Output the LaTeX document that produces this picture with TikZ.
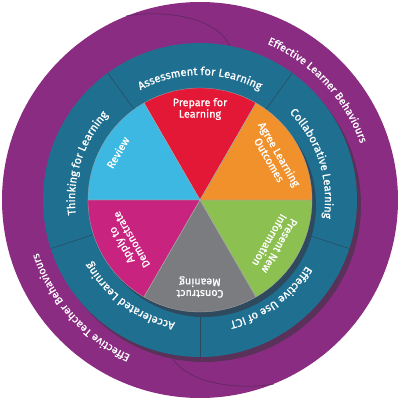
\documentclass[tikz,border=0pt]{standalone}
\usepackage{fontspec}
\setmainfont{Fira Sans}
\newfontfamily\lblfamily{Fira Sans}[FakeBold=0.8]
\usetikzlibrary{decorations.text}
\definecolor{outerpurple}{HTML}{8B2C83}
\definecolor{tealring}{HTML}{1F6F91}
\definecolor{ringshadow}{HTML}{5A3259}
\definecolor{pieshadow}{HTML}{2F4A5E}
\definecolor{sepline}{HTML}{2B4A5C}
\definecolor{purplesep}{HTML}{5A2A5E}
\definecolor{prepred}{HTML}{E31836}
\definecolor{agreeorange}{HTML}{F0912C}
\definecolor{presgreen}{HTML}{8CC152}
\definecolor{constgray}{HTML}{7A7C7F}
\definecolor{applymag}{HTML}{C7237F}
\definecolor{revblue}{HTML}{3CB8E2}
\newcommand\ringfnt{\lblfamily\fontsize{11.2}{12}\selectfont}
\newcommand\bandfnt{\lblfamily\fontsize{10.8}{12}\selectfont}
\newcommand\wedgefnt{\lblfamily\fontsize{10.8}{11.5}\selectfont}
\begin{document}
\begin{tikzpicture}[x=1pt,y=1pt,
  ringlabel/.style={decorate, decoration={text along path, text align=center, text color=white, text={|\ringfnt|#1}}},
  bandlabel/.style={decorate, decoration={text along path, text align=center, text color=white, text={|\bandfnt|#1}}},
  wedgelabel/.style={text=white, font=\wedgefnt, align=center, inner sep=0pt},
  wedge/.style={draw=black!35, line width=0.3pt}
]
\useasboundingbox (-200,-200) rectangle (200,200);
% outer purple band
\fill[outerpurple] (0,0) circle[radius=198];
\draw[purplesep, line width=0.6pt] (-74,184) .. controls (-40,190) and (15,185) .. (30,154);
\draw[purplesep, line width=0.6pt] (74,-184) .. controls (40,-190) and (-15,-185) .. (-30,-154);
% teal ring with shadow
\fill[ringshadow] (4,-5) circle[radius=157];
\fill[tealring] (0,0) circle[radius=157];
\foreach \a in {126,54,-18,270,198}
  \draw[sepline, line width=0.5pt] (\a:112) -- (\a:157);
% pie with shadow
\fill[pieshadow] (4,-5) circle[radius=112];
\fill[wedge, fill=prepred]     (0,0) -- (60:112)  arc[start angle=60,  end angle=120, radius=112] -- cycle;
\fill[wedge, fill=revblue]     (0,0) -- (120:112) arc[start angle=120, end angle=180, radius=112] -- cycle;
\fill[wedge, fill=applymag]    (0,0) -- (180:112) arc[start angle=180, end angle=240, radius=112] -- cycle;
\fill[wedge, fill=constgray]   (0,0) -- (240:112) arc[start angle=240, end angle=300, radius=112] -- cycle;
\fill[wedge, fill=presgreen]   (0,0) -- (300:112) arc[start angle=300, end angle=360, radius=112] -- cycle;
\fill[wedge, fill=agreeorange] (0,0) -- (0:112)   arc[start angle=0,   end angle=60,  radius=112] -- cycle;
\draw[wedge] (0,0) -- (60:112) (0,0) -- (120:112) (0,0) -- (180:112) (0,0) -- (240:112) (0,0) -- (300:112) (0,0) -- (0:112);
% wedge labels
\node[wedgelabel] (prep) at (90:91) {Prepare for\\Learning};
\node[wedgelabel, rotate=-60] (agree) at (30:86) {Agree Learning\\Outcomes};
\node[wedgelabel, rotate=-120] (present) at (-30:86) {Present New\\Information};
\node[wedgelabel, rotate=180] (construct) at (-90:87) {Construct\\Meaning};
\node[wedgelabel, rotate=120] (apply) at (210:85) {Apply to\\Demonstrate};
\node[wedgelabel, rotate=60] (review) at (150:95) {Review};
% ring labels (clockwise arcs)
\path[ringlabel={Assessment for Learning}] (126:125) arc[start angle=126, end angle=54, radius=125];
\path[ringlabel={Collaborative Learning}] (54:125) arc[start angle=54, end angle=-18, radius=125];
\path[ringlabel={Effective Use of ICT}] (-18:125) arc[start angle=-18, end angle=-90, radius=125];
\path[ringlabel={Accelerated Learning}] (270:125) arc[start angle=270, end angle=198, radius=125];
\path[ringlabel={Thinking for Learning}] (198:125) arc[start angle=198, end angle=126, radius=125];
% band labels
\path[bandlabel={Effective Learner Behaviours}] (100:170) arc[start angle=100, end angle=-14, radius=170];
\path[bandlabel={Effective Teacher Behaviours}] (279:170) arc[start angle=279, end angle=165, radius=170];
\end{tikzpicture}
\end{document}
